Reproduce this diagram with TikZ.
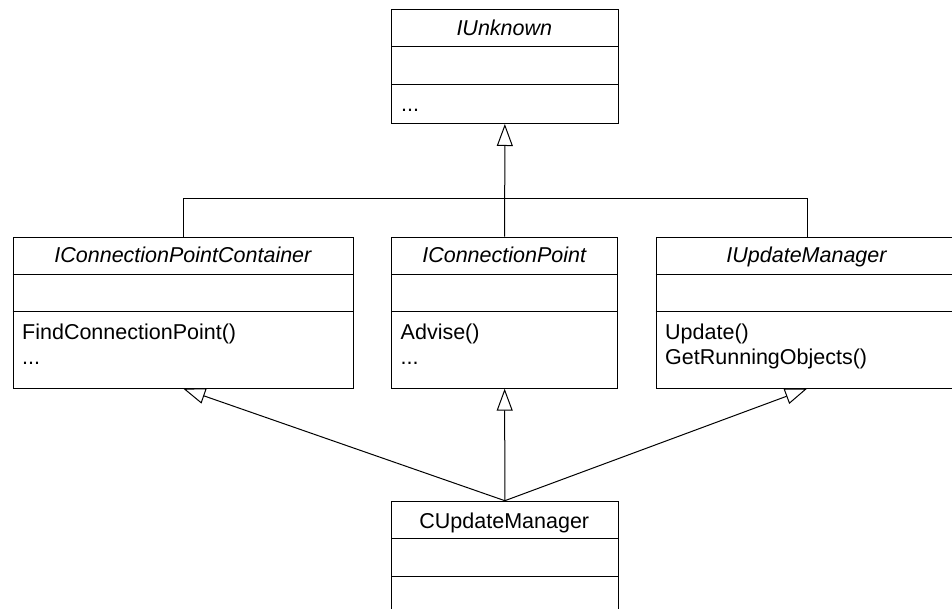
\documentclass[tikz,border=0pt]{standalone}
\usepackage{fontspec}
\setmainfont{Liberation Sans}
\usetikzlibrary{arrows.meta}

\begin{document}
\begin{tikzpicture}[x=1pt,y=-1pt,
  every node/.style={inner sep=0pt},
  classbox/.style={draw, line width=1pt, anchor=north west, inner sep=0pt},
  divider/.style={line width=1pt},
  title/.style={anchor=base, font=\itshape},
  ctitle/.style={anchor=base},
  op/.style={anchor=base west},
  link/.style={line width=1pt},
  gen/.style={line width=1pt, -{Triangle[open,length=22pt,width=16pt,line width=1pt]}}
]
\useasboundingbox (0,0) rectangle (952,609);
\clip (0,0) rectangle (952,609);
\fontsize{21.5}{25}\selectfont

% IUnknown
\node[classbox, minimum width=226.7pt, minimum height=113.7pt] (iu) at (391,9.3) {};
\draw[divider] (391,47) -- (617.7,47);
\draw[divider] (391,85) -- (617.7,85);
\node[title] (iut) at (504.3,36) {IUnknown};
\node[op] (iuo) at (401,112) {...};

% IConnectionPointContainer
\node[classbox, minimum width=340.3pt, minimum height=151pt] (cpc) at (12.7,236.7) {};
\draw[divider] (12.7,274.3) -- (353,274.3);
\draw[divider] (12.7,311.7) -- (353,311.7);
\node[title] (cpct) at (182.9,263) {IConnectionPointContainer};
\node[op] (cpco1) at (22,339) {FindConnectionPoint()};
\node[op] (cpco2) at (22,364) {...};

% IConnectionPoint
\node[classbox, minimum width=226.3pt, minimum height=151pt] (cp) at (391,236.7) {};
\draw[divider] (391,274.3) -- (617.3,274.3);
\draw[divider] (391,311.7) -- (617.3,311.7);
\node[title] (cpt) at (504.2,263) {IConnectionPoint};
\node[op] (cpo1) at (400.5,339) {Advise()};
\node[op] (cpo2) at (400.5,364) {...};

% IUpdateManager
\node[classbox, minimum width=301.6pt, minimum height=151pt] (ium) at (655.7,236.7) {};
\draw[divider] (655.7,274.3) -- (957.3,274.3);
\draw[divider] (655.7,311.7) -- (957.3,311.7);
\node[title] (iumt) at (806.5,263) {IUpdateManager};
\node[op] (iumo1) at (665,339) {Update()};
\node[op] (iumo2) at (665,364) {GetRunningObjects()};

% CUpdateManager
\node[classbox, minimum width=226.7pt, minimum height=114pt] (cum) at (391,500.7) {};
\draw[divider] (391,538.3) -- (617.7,538.3);
\draw[divider] (391,576) -- (617.7,576);
\node[ctitle] (cumt) at (504.3,528) {CUpdateManager};

% interfaces derived from IUnknown
\coordinate (bus) at (504.3,198.3);
\draw[link] (cpc.north) |- (bus) -| (ium.north);
\draw[gen] (cp.north) -- (iu.south);

% CUpdateManager implements the three interfaces
\draw[gen] (cum.north) -- (cpc.south);
\draw[gen] (cum.north) -- (cp.south);
\draw[gen] (cum.north) -- (ium.south);
\end{tikzpicture}
\end{document}
